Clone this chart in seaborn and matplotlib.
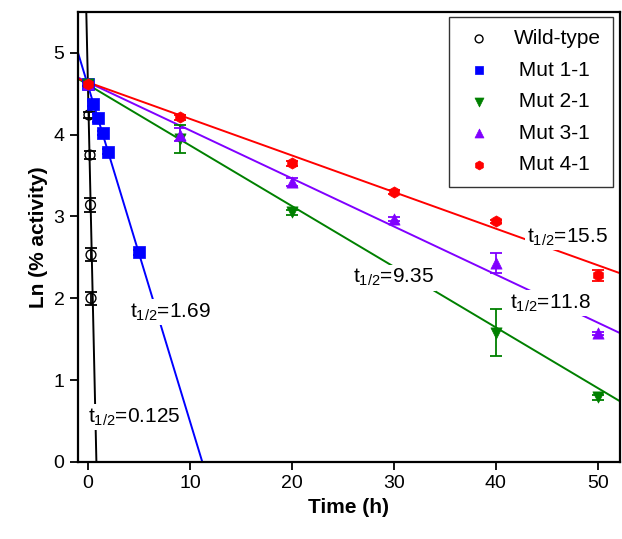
import matplotlib
matplotlib.use("Agg")
import matplotlib.pyplot as plt
import numpy as np
import pandas as pd
import seaborn as sns

sns.set_theme(style="ticks")
plt.rcParams["font.family"] = ["Liberation Sans", "DejaVu Sans"]
plt.rcParams["mathtext.default"] = "regular"
plt.rcParams["text.color"] = "black"
plt.rcParams["axes.labelcolor"] = "black"
plt.rcParams["xtick.color"] = "black"
plt.rcParams["ytick.color"] = "black"

# --- data ---
wt_time = [0.1, 0.2, 0.25, 0.3, 0.3]
wt_ln = [4.24, 3.75, 3.14, 2.53, 2.00]
wt_err = [0.04, 0.05, 0.08, 0.08, 0.08]

mut1_time = [0.0, 0.5, 1.0, 1.5, 2.0, 5.0]
mut1_ln = [4.62, 4.38, 4.20, 4.02, 3.79, 2.56]
mut1_err = [0.02, 0.03, 0.05, 0.03, 0.03, 0.03]

mut2_time = [0, 9, 20, 40, 50]
mut2_ln = [4.62, 3.95, 3.05, 1.58, 0.79]
mut2_err = [0.03, 0.17, 0.03, 0.29, 0.03]

mut3_time = [0, 9, 20, 30, 40, 50]
mut3_ln = [4.62, 4.00, 3.42, 2.97, 2.43, 1.57]
mut3_err = [0.02, 0.08, 0.05, 0.02, 0.12, 0.02]

mut4_time = [0, 9, 20, 30, 40, 50]
mut4_ln = [4.62, 4.21, 3.65, 3.30, 2.94, 2.28]
mut4_err = [0.02, 0.03, 0.03, 0.02, 0.02, 0.07]

# half-lives (h) and fitted intercepts of the regression lines
half_lives = [0.125, 1.69, 9.35, 11.8, 15.5]
intercepts = [4.60, 4.60, 4.61, 4.64, 4.64]

labels = ["Wild-type", " Mut 1-1", " Mut 2-1", " Mut 3-1", " Mut 4-1"]
colors = ["black", "#0000FF", "#008000", "#8000FF", "#FF0000"]
markers = ["o", "s", "v", "^", "h"]

series = [
    (wt_time, wt_ln, wt_err),
    (mut1_time, mut1_ln, mut1_err),
    (mut2_time, mut2_ln, mut2_err),
    (mut3_time, mut3_ln, mut3_err),
    (mut4_time, mut4_ln, mut4_err),
]

# annotation positions (data coords) for each half-life label
label_pos = [(0.0, 0.55), (4.1, 1.83), (26.0, 2.25), (41.4, 1.94), (43.1, 2.75)]

fig, ax = plt.subplots(figsize=(6.22, 5.39), dpi=100)
fig.subplots_adjust(left=0.125, right=0.997, bottom=0.143, top=0.978)

x_line = np.linspace(-1.5, 53, 400)
for t_half, b, color in zip(half_lives, intercepts, colors):
    k = np.log(2) / t_half
    xs = x_line if t_half > 1 else np.linspace(-0.3, 1.0, 50)
    line_df = pd.DataFrame({"t": xs, "y": b - k * xs})
    sns.lineplot(data=line_df, x="t", y="y", color=color, lw=1.4, ax=ax, zorder=2)

for (t, y, e), lab, color, mk in zip(series, labels, colors, markers):
    ax.errorbar(t, y, yerr=e, fmt="none", ecolor=color, elinewidth=1.3, capsize=4, capthick=1.3, zorder=3)
    df = pd.DataFrame({"t": t, "y": y})
    if mk == "o":
        sns.scatterplot(data=df, x="t", y="y", ax=ax, marker="o", s=50, facecolors="none",
                        edgecolor=color, linewidth=1.0, label=lab, zorder=4)
    else:
        sns.scatterplot(data=df, x="t", y="y", ax=ax, marker=mk, s=65, color=color,
                        edgecolor=color, linewidth=0.5, label=lab, zorder=4)

for t_half, (px, py) in zip(half_lives, label_pos):
    ax.text(px, py, f"t$_{{1/2}}$={t_half:g}", fontsize=15, ha="left", va="center",
            bbox=dict(facecolor="white", edgecolor="none", pad=1.5), zorder=5)

ax.set_xlim(-1.0, 52.2)
ax.set_ylim(0, 5.5)
ax.set_xticks([0, 10, 20, 30, 40, 50])
ax.set_yticks([0, 1, 2, 3, 4, 5])
ax.tick_params(axis="both", direction="out", length=6, width=1.3, labelsize=14, color="black")
ax.set_xlabel("Time (h)", fontsize=15, fontweight="bold")
ax.set_ylabel("Ln (% activity)", fontsize=15, fontweight="bold")
for side in ax.spines.values():
    side.set_color("black")
    side.set_linewidth(1.6)

leg = ax.legend(loc="upper right", bbox_to_anchor=(1.006, 1.012), fontsize=15, frameon=True,
                fancybox=False, edgecolor="black", handletextpad=0.8, borderpad=0.6,
                labelspacing=0.6, markerscale=0.8, handlelength=1.7)
leg.get_frame().set_linewidth(1.0)
leg.set_zorder(6)

fig.savefig("out.png", dpi=100)
